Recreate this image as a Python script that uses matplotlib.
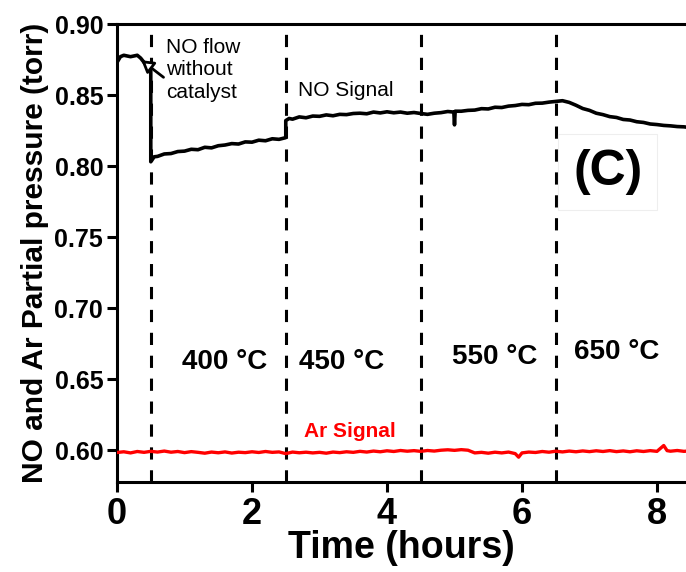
import matplotlib
matplotlib.use('Agg')
import matplotlib.pyplot as plt

plt.rcParams['font.family'] = ['Liberation Sans', 'DejaVu Sans']

# NO signal (torr) vs time (hours)
no_time = [0.0, 0.05, 0.1, 0.2, 0.3, 0.35, 0.4, 0.45, 0.5,
           0.5, 0.55, 0.6, 0.7, 0.8, 0.9, 1.0, 1.1, 1.2, 1.3, 1.4, 1.5,
           1.6, 1.7, 1.8, 1.9, 2.0, 2.1, 2.2, 2.3, 2.4, 2.5,
           2.5, 2.55, 2.6, 2.7, 2.8, 2.9, 3.0, 3.1, 3.2, 3.3, 3.4, 3.5,
           3.6, 3.7, 3.8, 3.9, 4.0, 4.1, 4.2, 4.3, 4.4, 4.5,
           4.6, 4.7, 4.8, 4.9, 4.99, 5.0, 5.01, 5.1, 5.2, 5.3, 5.4, 5.5,
           5.6, 5.7, 5.8, 5.9, 6.0, 6.1, 6.2, 6.3, 6.4, 6.5,
           6.6, 6.7, 6.8, 6.9, 7.0, 7.1, 7.2, 7.3, 7.4, 7.5,
           7.6, 7.7, 7.8, 7.9, 8.0, 8.1, 8.2, 8.3, 8.4, 8.5]
no_signal = [0.873, 0.877, 0.878, 0.877, 0.878, 0.876, 0.873, 0.870, 0.867,
             0.803, 0.8065, 0.8068, 0.8085, 0.8088, 0.8102, 0.8105, 0.8118, 0.8115, 0.8132, 0.8128, 0.8143,
             0.8148, 0.8158, 0.8155, 0.8170, 0.8168, 0.8182, 0.8178, 0.8192, 0.8188, 0.8200,
             0.8320, 0.8335, 0.8330, 0.8346, 0.8340, 0.8352, 0.8350, 0.8360, 0.8354, 0.8364, 0.8362, 0.8370,
             0.8372, 0.8368, 0.8380, 0.8374, 0.8382, 0.8375, 0.8380, 0.8372, 0.8377, 0.8370,
             0.8364, 0.8372, 0.8376, 0.8384, 0.8380, 0.8290, 0.8386, 0.8386, 0.8392, 0.8394, 0.8404, 0.8402,
             0.8414, 0.8412, 0.8422, 0.8426, 0.8434, 0.8432, 0.8442, 0.8443, 0.8450, 0.8455,
             0.8460, 0.8448, 0.8428, 0.8405, 0.8392, 0.8372, 0.8362, 0.8348, 0.8342, 0.8328,
             0.8324, 0.8312, 0.8307, 0.8296, 0.8292, 0.8286, 0.8283, 0.8278, 0.8276, 0.8270]

# Ar signal (torr)
ar_time = [0.0, 0.1, 0.2, 0.3, 0.4, 0.5, 0.6, 0.7, 0.8, 0.9,
           1.0, 1.1, 1.2, 1.3, 1.4, 1.5, 1.6, 1.7, 1.8, 1.9,
           2.0, 2.1, 2.2, 2.3, 2.4, 2.5, 2.6, 2.7, 2.8, 2.9,
           3.0, 3.1, 3.2, 3.3, 3.4, 3.5, 3.6, 3.7, 3.8, 3.9,
           4.0, 4.1, 4.2, 4.3, 4.4, 4.5, 4.6, 4.7, 4.8, 4.9,
           5.0, 5.1, 5.2, 5.3, 5.4, 5.5, 5.6, 5.7, 5.8, 5.9, 5.95,
           6.0, 6.1, 6.2, 6.3, 6.4, 6.5, 6.6, 6.7, 6.8, 6.9,
           7.0, 7.1, 7.2, 7.3, 7.4, 7.5, 7.6, 7.7, 7.8, 7.9,
           8.0, 8.1, 8.15, 8.2, 8.3, 8.4, 8.5]
ar_signal = [0.5983, 0.5988, 0.5980, 0.5990, 0.5984, 0.5991, 0.5986, 0.5993, 0.5985, 0.5990,
             0.5982, 0.5989, 0.5984, 0.5978, 0.5986, 0.5981, 0.5987, 0.5979, 0.5985, 0.5982,
             0.5988, 0.5983, 0.5990, 0.5984, 0.5987, 0.5975, 0.5986, 0.5981, 0.5985, 0.5980,
             0.5984, 0.5978, 0.5986, 0.5982, 0.5988, 0.5984, 0.5991, 0.5986, 0.5993, 0.5988,
             0.5995, 0.5990, 0.5997, 0.5992, 0.5996, 0.5991, 0.5997, 0.5993, 0.5999, 0.6002,
             0.5998, 0.6003, 0.5999, 0.5980, 0.5984, 0.5978, 0.5985, 0.5980, 0.5986, 0.5975, 0.5950,
             0.5980, 0.5986, 0.5983, 0.5990, 0.5985, 0.5992, 0.5987, 0.5993, 0.5988, 0.5994,
             0.5989, 0.5995, 0.5990, 0.5996, 0.5989, 0.5994, 0.5988, 0.5995, 0.5990, 0.5996,
             0.5991, 0.6032, 0.5996, 0.5992, 0.5997, 0.5991, 0.5995]

switch_times = [0.5, 2.5, 4.5, 6.5]
temp_labels = ['400 °C', '450 °C', '550 °C', '650 °C']
temp_x = [1.6, 3.33, 5.6, 7.4]
temp_y = [0.662, 0.662, 0.6655, 0.669]

fig = plt.figure(figsize=(6.86, 5.72), dpi=100)
ax = fig.add_axes([0.1706, 0.1573, 0.8294, 0.8007])

for t in switch_times:
    ax.axvline(t, color='black', lw=2.2, linestyle=(0, (4, 3.5)), zorder=1)

ax.plot(no_time, no_signal, color='black', lw=2.6, zorder=3)
ax.plot(ar_time, ar_signal, color='red', lw=2.4, zorder=3)

ax.set_xlim(0, 8.43)
ax.set_ylim(0.5775, 0.90)
ax.set_xticks([0, 2, 4, 6, 8])
ax.set_yticks([0.60, 0.65, 0.70, 0.75, 0.80, 0.85, 0.90])
ax.set_yticklabels(['%.2f' % v for v in ax.get_yticks()])

for side in ['left', 'bottom', 'top']:
    ax.spines[side].set_linewidth(2.2)
ax.spines['right'].set_visible(False)
ax.tick_params(axis='both', direction='out', length=7, width=2.2)
ax.tick_params(axis='x', labelsize=26, pad=4)
ax.tick_params(axis='y', labelsize=18, pad=3)
for lab in ax.get_xticklabels() + ax.get_yticklabels():
    lab.set_fontweight('bold')

ax.set_xlabel('Time (hours)', fontsize=27, fontweight='bold', labelpad=-2)
ax.set_ylabel('NO and Ar Partial pressure (torr)', fontsize=21.5, fontweight='bold', labelpad=4)

ax.annotate('NO flow\nwithout\ncatalyst', xy=(0.36, 0.8745), xytext=(0.73, 0.8905),
            fontsize=15, va='top', ha='left', linespacing=1.25,
            arrowprops=dict(arrowstyle='-|>,head_length=0.5,head_width=0.3', color='black',
                            lw=2, fc='white', relpos=(0, 0.35), shrinkA=0, shrinkB=0,
                            mutation_scale=14))
ax.text(2.68, 0.853, 'NO Signal', fontsize=15, ha='left', va='center')
ax.text(3.45, 0.6134, 'Ar Signal', fontsize=15, color='red', fontweight='bold',
        ha='center', va='center')
ax.text(7.27, 0.796, '(C)', fontsize=36, fontweight='bold', ha='center', va='center',
        bbox=dict(boxstyle='square,pad=0.3', fc='white', ec='#eeeeee', lw=0.8), zorder=2)

for lab, x, y in zip(temp_labels, temp_x, temp_y):
    ax.text(x, y, lab, fontsize=20, fontweight='bold', ha='center', va='center')

fig.savefig('out.png', dpi=100)
